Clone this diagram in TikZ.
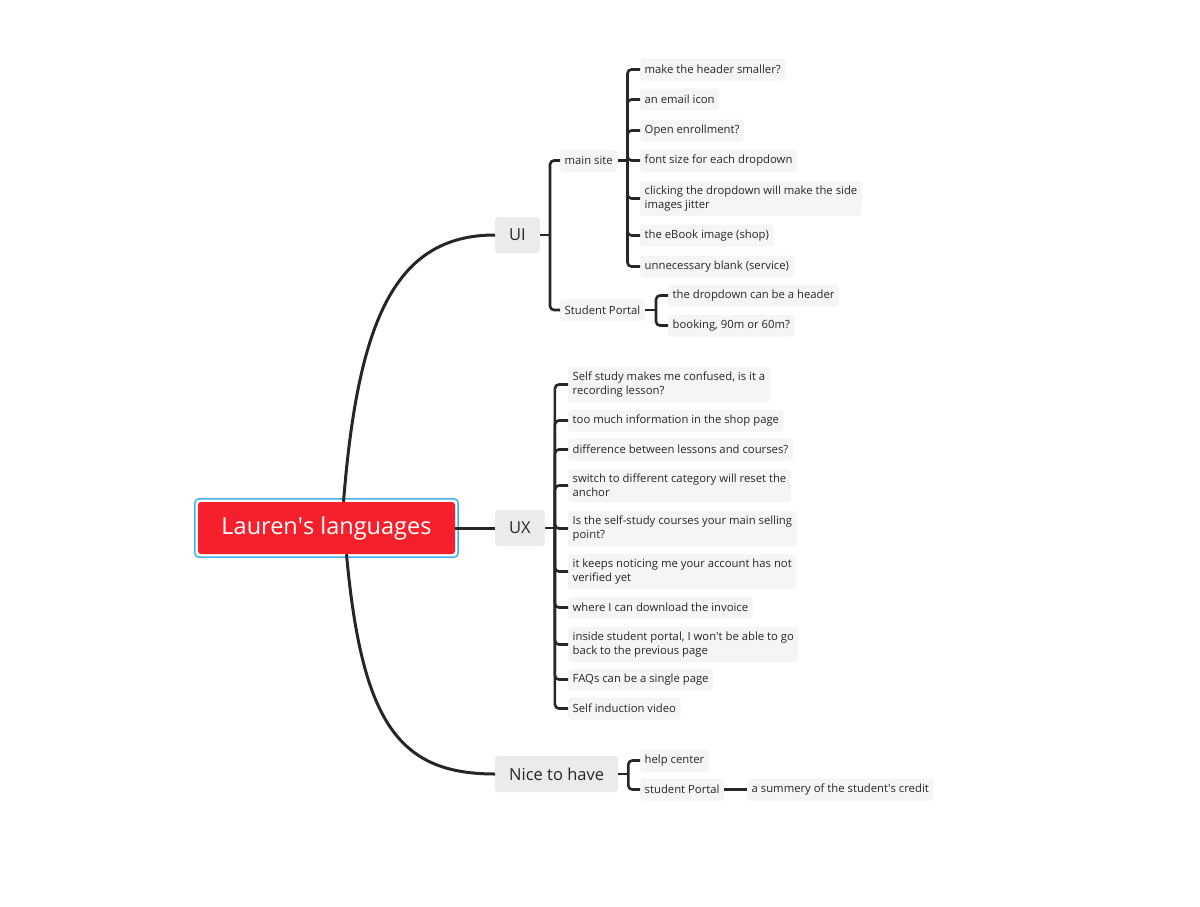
\documentclass[tikz,border=0pt]{standalone}
\usepackage{fontspec}
\setmainfont{Open Sans}
\usetikzlibrary{calc}

\definecolor{rootred}{HTML}{F61F2C}
\definecolor{selblue}{HTML}{3FB0F0}
\definecolor{topicgray}{HTML}{EBEBEB}
\definecolor{leafgray}{HTML}{F5F5F5}
\definecolor{ink}{HTML}{262626}

\tikzset{
  topic/.style = {anchor = west, fill = topicgray, rounded corners = 3pt,
    inner xsep = 14pt, minimum height = 36pt, text = ink,
    font = \fontsize{16.5}{19}\selectfont},
  leaf/.style = {anchor = west, fill = leafgray, rounded corners = 3pt,
    inner xsep = 4.5pt, inner ysep = 5pt, minimum height = 22pt,
    align = left, text = ink, font = \fontsize{11.3}{14}\selectfont},
  trunk/.style = {draw = ink, line width = 3pt},
  twig/.style = {draw = ink, line width = 2.6pt, rounded corners = 4pt}
}

\begin{document}
\begin{tikzpicture}[x = 1pt, y = -1pt]
  \useasboundingbox (0, 0) rectangle (1200, 906);

  \node[fill = rootred, rounded corners = 3pt, minimum width = 257pt,
  minimum height = 52pt, text = white, font = \fontsize{23.5}{26}\selectfont]
  (root) at (326.5, 528) {Lauren\textquotesingle s languages};
  \draw[selblue, line width = 1.5pt, rounded corners = 4pt]
  ($(root.south west) + (-3, 3)$) rectangle ($(root.north east) + (3, -3)$);

  \node[topic] (ui) at (495, 235) {UI};
  \node[topic] (ux) at (495, 528) {UX};
  \node[topic] (nice) at (495, 774) {Nice to have};

  \draw[trunk] ($(root.north) + (17, 0)$) .. controls (358, 320) and (395, 235) .. (ui.west);
  \draw[trunk] (root.east) -- (ux.west);
  \draw[trunk] ($(root.south) + (20, 0)$) .. controls (362, 725) and (400, 774) .. (nice.west);

  % UI
  \node[leaf] (ms) at (560, 160.5) {main site};
  \node[leaf] (sp) at (560, 310) {Student Portal};
  \draw[twig] (ui.east) -- ++(10, 0) coordinate (uiJ);
  \foreach \c in {ms, sp}{
    \draw[twig] (uiJ) |- (\c.west);
  }

  \foreach \n/\y/\t in {1/69.5/{make the header smaller?},
    2/99.5/{an email icon},
    3/130.5/{Open enrollment?},
    4/160.5/{font size for each dropdown},
    5/198.5/{clicking the dropdown will make the side\\images jitter},
    6/235.5/{the eBook image (shop)},
    7/266.5/{unnecessary blank (service)}}{
    \node[leaf] (ms\n) at (640, \y) {\t};
  }
  \draw[twig] (ms.east) -- ++(10, 0) coordinate (msJ);
  \foreach \n in {1, ..., 7}{
    \draw[twig] (msJ) |- (ms\n.west);
  }

  \node[leaf] (sp1) at (668, 295.5) {the dropdown can be a header};
  \node[leaf] (sp2) at (668, 325.5) {booking, 90m or 60m?};
  \draw[twig] (sp.east) -- ++(11, 0) coordinate (spJ);
  \foreach \c in {sp1, sp2}{
    \draw[twig] (spJ) |- (\c.west);
  }

  % UX
  \foreach \n/\y/\t in {1/384.5/{Self study makes me confused, is it a\\recording lesson?},
    2/420.5/{too much information in the shop page},
    3/449.5/{difference between lessons and courses?},
    4/485.5/{switch to different category will reset the\\anchor},
    5/528.5/{Is the self-study courses your main selling\\point?},
    6/571.5/{it keeps noticing me your account has not\\verified yet},
    7/607.5/{where I can download the invoice},
    8/644.5/{inside student portal, I won\textquotesingle t be able to go\\back to the previous page},
    9/679.5/{FAQs can be a single page},
    10/708.5/{Self induction video}}{
    \node[leaf] (ux\n) at (568, \y) {\t};
  }
  \draw[twig] (ux.east) -- ++(10, 0) coordinate (uxJ);
  \foreach \n in {1, ..., 10}{
    \draw[twig] (uxJ) |- (ux\n.west);
  }

  % Nice to have
  \node[leaf] (nh1) at (640, 760.5) {help center};
  \node[leaf] (nh2) at (640, 789.5) {student Portal};
  \node[leaf] (nh2a) at (747, 789.5) {a summery of the student\textquotesingle s credit};
  \draw[twig] (nice.east) -- ++(10, 0) coordinate (niceJ);
  \foreach \c in {nh1, nh2}{
    \draw[twig] (niceJ) |- (\c.west);
  }
  \draw[twig] (nh2.east) -- (nh2a.west);
\end{tikzpicture}
\end{document}
